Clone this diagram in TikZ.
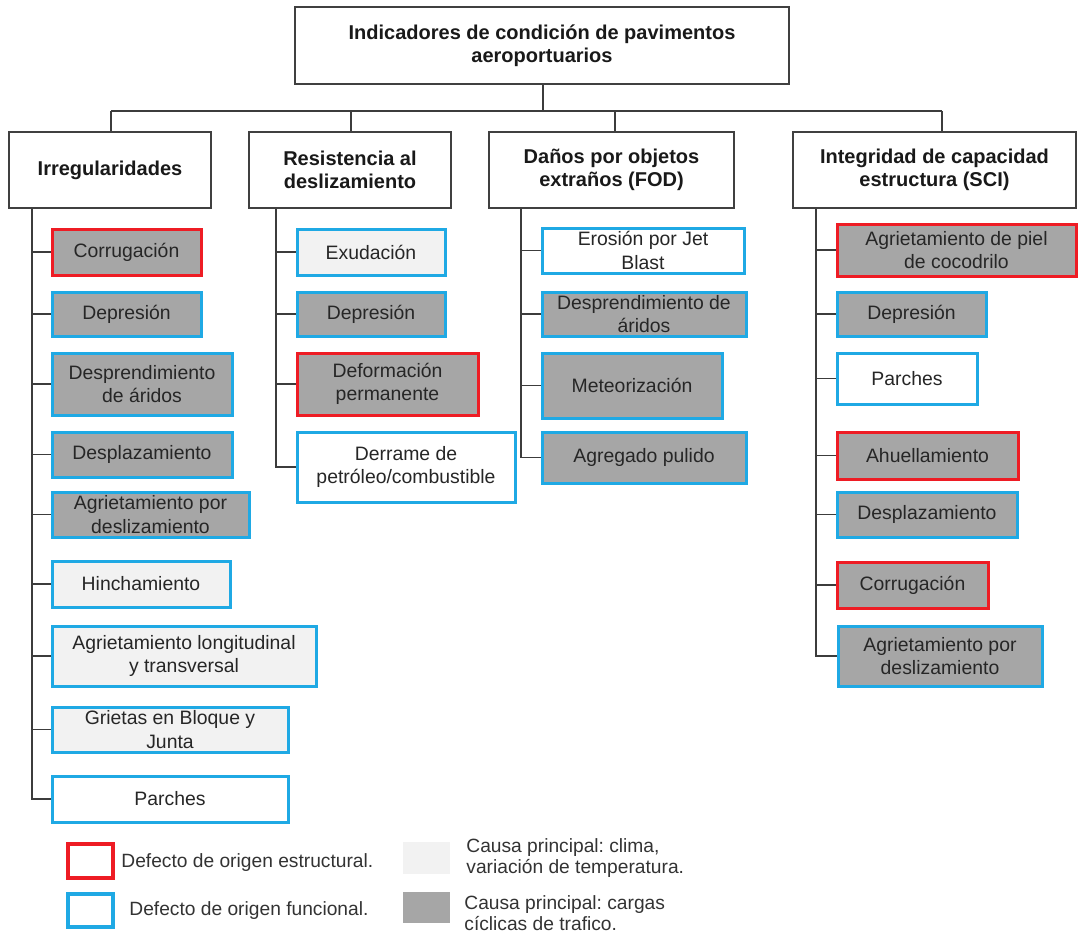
\documentclass[tikz,border=0pt]{standalone}
\usepackage{fontspec}
\setmainfont{Liberation Sans}
\frenchspacing
\definecolor{redb}{HTML}{EE1C24}
\definecolor{blueb}{HTML}{1FA9E4}
\definecolor{dkg}{HTML}{A6A6A6}
\definecolor{ltg}{HTML}{F2F2F2}
\definecolor{txt}{HTML}{262626}
\definecolor{catline}{HTML}{404040}
\definecolor{connc}{HTML}{3C3C3C}
\definecolor{legtxt}{HTML}{333333}
\newcommand\leaffont{\fontsize{9.7}{11.7}\selectfont\frenchspacing}
\newcommand\catfont{\fontsize{10}{11.4}\selectfont\bfseries}
\newcommand\legfont{\fontsize{9.6}{10.8}\selectfont\frenchspacing}
% name, x1, y1, x2, y2, style, text
\newcommand\leaf[7]{%
  \node[leafbox,#6,minimum width={(#4-#2)*0.5pt},minimum height={(#5-#3)*0.5pt}]
    (#1) at ({(#2+#4)/2},{(#3+#5)/2}) {#7};}
\newcommand\catbox[6]{%
  \node[catbox,minimum width={(#4-#2)*0.5pt},minimum height={(#5-#3)*0.5pt}]
    (#1) at ({(#2+#4)/2},{(#3+#5)/2}) {#6};}
\tikzset{
  leafbox/.style={draw, line width=1.5pt, inner sep=0pt, align=center, font=\leaffont, text=txt},
  st/.style={draw=redb},
  fu/.style={draw=blueb},
  dk/.style={fill=dkg},
  lt/.style={fill=ltg},
  wh/.style={fill=white},
  catbox/.style={draw=catline, line width=1pt, fill=white, align=center, font=\catfont, text=black!90, inner sep=0pt},
  conn/.style={draw=connc, line width=0.85pt},
  legtext/.style={font=\legfont, text=legtxt, inner sep=0pt, align=left, anchor=west},
}
\begin{document}
\begin{tikzpicture}[x=0.5pt,y=-0.5pt]
\fill[white] (0,0) rectangle (1078,933);
\useasboundingbox (0,0) rectangle (1078,933);

% top and categories
\catbox{top}{295}{7}{789}{84}{Indicadores de condición de pavimentos\\aeroportuarios}
\catbox{c1}{9}{132}{211}{208}{Irregularidades}
\catbox{c2}{249}{132}{451}{208}{Resistencia al\\deslizamiento}
\catbox{c3}{489}{132}{734}{208}{Daños por objetos\\extraños (FOD)}
\catbox{c4}{793}{132}{1076}{208}{Integridad de capacidad\\estructura (SCI)}

\coordinate (t0) at (543,111);
\coordinate (t1) at (111,111);
\coordinate (t2) at (351,111);
\coordinate (t3) at (615,111);
\coordinate (t4) at (942,111);
\draw[conn] (top.south -| t0) -- (t0);
\draw[conn] (t1) -- (t4);
\draw[conn] (t1) -- (t1 |- c1.north);
\draw[conn] (t2) -- (t2 |- c2.north);
\draw[conn] (t3) -- (t3 |- c3.north);
\draw[conn] (t4) -- (t4 |- c4.north);

% column 1
\leaf{a1}{52}{229}{201}{275}{st,dk}{Corrugación}
\leaf{a2}{52}{292}{201}{336}{fu,dk}{Depresión}
\leaf{a3}{52}{353}{232}{415}{fu,dk}{Desprendimiento\\de áridos}
\leaf{a4}{52}{432}{232}{477}{fu,dk}{Desplazamiento}
\leaf{a5}{52}{492}{249}{537}{fu,dk}{Agrietamiento por\\deslizamiento}
\leaf{a6}{52}{561}{230}{607}{fu,lt}{Hinchamiento}
\leaf{a7}{52}{626}{316}{686}{fu,lt}{Agrietamiento longitudinal\\y transversal}
\leaf{a8}{52}{707}{288}{752}{fu,lt}{Grietas en Bloque y\\Junta}
\leaf{a9}{52}{776}{288}{822}{fu,wh}{Parches}
\coordinate (s1) at (32,208);
\draw[conn] (s1 |- c1.south) -- (s1 |- a9.west) -- (a9.west);
\foreach \n in {a1,a2,a3,a4,a5,a6,a7,a8} \draw[conn] (s1 |- \n.west) -- (\n.west);

% column 2
\leaf{b1}{297}{229}{445}{275}{fu,lt}{Exudación}
\leaf{b2}{297}{292}{445}{336}{fu,dk}{Depresión}
\leaf{b3}{297}{353}{478}{415}{st,dk}{Deformación\\permanente}
\leaf{b4}{297}{432}{515}{502}{fu,wh}{Derrame de\\petróleo/combustible}
\coordinate (s2) at (276,208);
\draw[conn] (s2 |- c2.south) -- (s2 |- b4.west) -- (b4.west);
\foreach \n in {b1,b2,b3} \draw[conn] (s2 |- \n.west) -- (\n.west);

% column 3
\leaf{d1}{542}{228}{744}{273}{fu,wh}{Erosión por Jet\\Blast}
\leaf{d2}{542}{292}{746}{336}{fu,dk}{Desprendimiento de\\áridos}
\leaf{d3}{542}{353}{722}{418}{fu,dk}{Meteorización}
\leaf{d4}{542}{432}{746}{483}{fu,dk}{Agregado pulido}
\coordinate (s3) at (521,208);
\draw[conn] (s3 |- c3.south) -- (s3 |- d4.west) -- (d4.west);
\foreach \n in {d1,d2,d3} \draw[conn] (s3 |- \n.west) -- (\n.west);

% column 4
\leaf{e1}{837}{224}{1076}{276}{st,dk}{Agrietamiento de piel\\de cocodrilo}
\leaf{e2}{837}{292}{986}{336}{fu,dk}{Depresión}
\leaf{e3}{837}{353}{977}{404}{fu,wh}{Parches}
\leaf{e4}{837}{432}{1018}{479}{st,dk}{Ahuellamiento}
\leaf{e5}{837}{492}{1017}{537}{fu,dk}{Desplazamiento}
\leaf{e6}{837}{562}{988}{608}{st,dk}{Corrugación}
\leaf{e7}{838}{626}{1042}{686}{fu,dk}{Agrietamiento por\\deslizamiento}
\coordinate (s4) at (816,208);
\draw[conn] (s4 |- c4.south) -- (s4 |- e7.west) -- (e7.west);
\foreach \n in {e1,e2,e3,e4,e5,e6} \draw[conn] (s4 |- \n.west) -- (\n.west);

% legend
\draw[redb, line width=2pt, fill=white] (68,844) rectangle (113,878);
\draw[blueb, line width=2pt, fill=white] (68,894) rectangle (113,927);
\fill[ltg] (403,842) rectangle (450,874);
\fill[dkg] (403,892) rectangle (450,923);
\node[legtext] (l1) at (121,863) {Defecto de origen estructural.};
\node[legtext] (l2) at (129,911) {Defecto de origen funcional.};
\node[legtext] (l3) at (466,858) {Causa principal: clima,\\variación de temperatura.};
\node[legtext] (l4) at (464,913) {Causa principal: cargas\\cíclicas de trafico.};
\end{tikzpicture}
\end{document}
